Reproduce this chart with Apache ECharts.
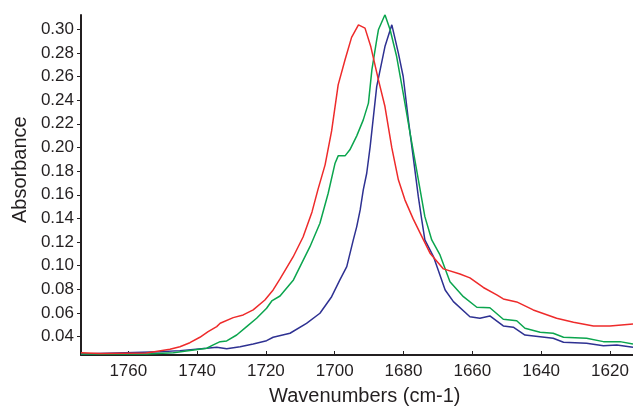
<!DOCTYPE html>
<html>
<head>
<meta charset="utf-8">
<script src="https://cdn.jsdelivr.net/npm/echarts@6/dist/echarts.min.js"></script>
<style>
html,body{margin:0;padding:0;background:#fff;}
#chart{width:633px;height:408px;}
</style>
</head>
<body>
<div id="chart"></div>
<script>
var yTicks = [0.04,0.06,0.08,0.10,0.12,0.14,0.16,0.18,0.20,0.22,0.24,0.26,0.28,0.30];
var xTicks = [1760,1740,1720,1700,1680,1660,1640,1620];

var redWn  = [1773.75,1768.2,1754.7,1747.9,1745.0,1742.1,1739.2,1736.8,1734.3,1733.3,1729.5,1726.6,1723.7,1720.3,1717.9,1715.9,1712.1,1709.2,1706.6,1704.9,1702.8,1700.9,1699.0,1697.0,1695.1,1693.1,1691.2,1689.5,1687.3,1685.4,1683.4,1681.5,1679.6,1677.2,1674.2,1672.3,1668.4,1663.6,1660.7,1656.8,1652.9,1651.0,1647.1,1642.3,1635.5,1630.6,1624.8,1620.0,1613.3];
var redAbs = [0.0265,0.0258,0.0262,0.0293,0.0315,0.0349,0.0395,0.0442,0.0485,0.0513,0.0561,0.0584,0.0626,0.0710,0.0795,0.0888,0.1074,0.1243,0.1455,0.1641,0.1853,0.2140,0.2529,0.2741,0.2931,0.3037,0.3009,0.2851,0.2572,0.2346,0.1996,0.1726,0.1557,0.1396,0.1218,0.1106,0.0973,0.0930,0.0897,0.0816,0.0753,0.0719,0.0694,0.0626,0.0556,0.0522,0.0491,0.0491,0.0507];

var greenWn  = [1773.75,1754.7,1746.9,1737.2,1735.3,1733.3,1731.4,1728.5,1725.6,1722.7,1719.8,1718.3,1715.9,1712.0,1707.2,1704.3,1701.9,1699.9,1699.0,1697.0,1695.6,1693.6,1691.7,1690.2,1689.2,1687.8,1687.3,1685.4,1683.9,1682.0,1680.1,1678.1,1676.2,1673.8,1671.8,1669.4,1666.5,1662.6,1658.7,1654.9,1651.0,1647.1,1644.7,1640.3,1636.5,1633.5,1626.8,1621.9,1617.1,1613.3];
var greenAbs = [0.0254,0.0254,0.0265,0.0302,0.0330,0.0358,0.0364,0.0414,0.0485,0.0556,0.0640,0.0702,0.0744,0.0880,0.1161,0.1359,0.1613,0.1867,0.1929,0.1929,0.1980,0.2098,0.2233,0.2375,0.2656,0.2910,0.2995,0.3122,0.2995,0.2769,0.2459,0.2121,0.1810,0.1415,0.1218,0.1091,0.0865,0.0738,0.0649,0.0645,0.0547,0.0535,0.0471,0.0437,0.0429,0.0395,0.0386,0.0358,0.0358,0.0338];

var blueWn  = [1773.75,1750.8,1745.0,1737.2,1734.3,1731.4,1727.5,1723.7,1719.8,1717.9,1713.0,1708.2,1704.3,1700.9,1698.5,1696.5,1694.6,1693.6,1692.6,1691.7,1690.7,1689.7,1687.8,1685.4,1683.4,1681.5,1680.1,1678.6,1677.2,1675.7,1674.7,1673.8,1671.3,1667.9,1665.5,1660.7,1657.8,1654.9,1651.0,1648.1,1644.7,1640.3,1636.5,1633.5,1626.8,1621.9,1618.0,1613.3];
var blueAbs = [0.0254,0.0273,0.0282,0.0302,0.0310,0.0298,0.0315,0.0338,0.0366,0.0395,0.0429,0.0513,0.0598,0.0738,0.0880,0.0992,0.1218,0.1331,0.1472,0.1641,0.1782,0.2007,0.2515,0.2853,0.3037,0.2798,0.2600,0.2233,0.1923,0.1584,0.1387,0.1218,0.1077,0.0795,0.0696,0.0569,0.0556,0.0575,0.0491,0.0480,0.0414,0.0400,0.0386,0.0353,0.0344,0.0324,0.0330,0.0310];

function zip(a, b) { return a.map(function (v, i) { return [v, b[i]]; }); }

var chart = echarts.init(document.getElementById('chart'), null, {renderer: 'canvas'});
var font = 'Liberation Sans, Arial, Helvetica, sans-serif';
var textColor = '#231f20';

chart.setOption({
  animation: false,
  backgroundColor: '#ffffff',
  grid: {left: 81, right: 0, top: 15, bottom: 53, containLabel: false},
  xAxis: {
    type: 'value',
    inverse: true,
    min: 1613.3,
    max: 1773.75,
    axisLine: {show: true, onZero: false, lineStyle: {color: '#231f20', width: 2}},
    axisTick: {show: true, inside: true, length: 4, customValues: xTicks, lineStyle: {color: '#231f20', width: 1}},
    axisLabel: {customValues: xTicks, margin: 8, fontSize: 17, fontFamily: font, color: textColor,
      formatter: function (v) { return String(v); }},
    splitLine: {show: false}
  },
  yAxis: {
    type: 'value',
    min: 0.0245,
    max: 0.312,
    axisLine: {show: true, onZero: false, lineStyle: {color: '#231f20', width: 2}},
    axisTick: {show: true, inside: false, length: 4, customValues: yTicks, lineStyle: {color: '#231f20', width: 1}},
    axisLabel: {customValues: yTicks, margin: 7, fontSize: 17, fontFamily: font, color: textColor,
      formatter: function (v) { return v.toFixed(2); }},
    splitLine: {show: false}
  },
  graphic: [
    {type: 'text', left: 269, top: 386, style: {text: 'Wavenumbers (cm-1)', font: '20px ' + font, fill: textColor}},
    {type: 'text', x: 10, y: 223, rotation: Math.PI / 2, style: {text: 'Absorbance', font: '20px ' + font, fill: textColor, textVerticalAlign: 'top'}}
  ],
  series: [
    {type: 'line', data: zip(blueWn, blueAbs), showSymbol: false, lineStyle: {color: '#2e3192', width: 1.5}, z: 2},
    {type: 'line', data: zip(greenWn, greenAbs), showSymbol: false, lineStyle: {color: '#0ba54e', width: 1.5}, z: 3},
    {type: 'line', data: zip(redWn, redAbs), showSymbol: false, lineStyle: {color: '#ee2b2b', width: 1.5}, z: 4}
  ]
});
</script>
</body>
</html>
